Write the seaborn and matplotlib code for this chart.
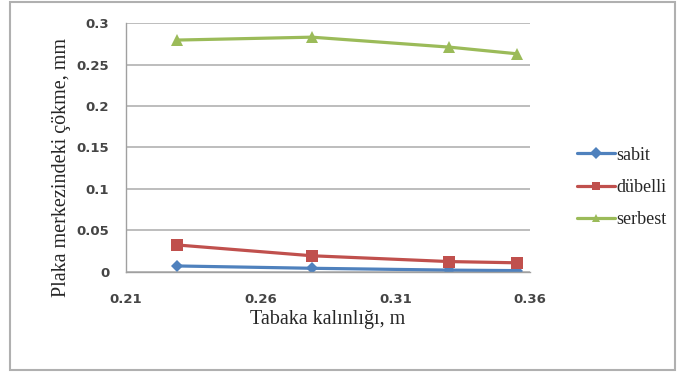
"""
Plaka merkezindeki çökme vs tabaka kalınlığı — çizgi grafik
"""
import numpy as np
import pandas as pd
import matplotlib
matplotlib.use("Agg")
import matplotlib.pyplot as plt
from matplotlib.patches import Rectangle
import seaborn as sns

# Veri
kalinlik = [0.229, 0.279, 0.330, 0.355]
sabit = [0.0072, 0.0044, 0.0022, 0.0016]
dubelli = [0.0325, 0.0195, 0.0125, 0.011]
serbest = [0.2795, 0.2830, 0.2710, 0.2630]
seriler = ["sabit", "dübelli", "serbest"]
renkler = ["#4F81BD", "#C0504D", "#9BBB59"]
isaretler = ["D", "s", "^"]
x_ticks = [0.21, 0.26, 0.31, 0.36]
y_ticks = [0, 0.05, 0.1, 0.15, 0.2, 0.25, 0.3]

df = pd.DataFrame({
    "x": kalinlik * 3,
    "y": sabit + dubelli + serbest,
    "seri": np.repeat(seriler, len(kalinlik)),
})

sns.set_style("white")
plt.rcParams["font.family"] = ["DejaVu Sans"]
SERIF = ["Liberation Serif", "DejaVu Serif"]

fig = plt.figure(figsize=(6.77, 3.72), dpi=100)
ax = fig.add_axes([0.186, 0.269, 0.597, 0.669])

sns.lineplot(data=df, x="x", y="y", hue="seri", style="seri",
             palette=renkler, markers=isaretler, dashes=False,
             hue_order=seriler, style_order=seriler,
             linewidth=2.3, markeredgewidth=0, ax=ax)
for line, ms in zip(ax.lines, [6, 9, 9]):
    line.set_markersize(ms)

ax.set_xlim(0.21, 0.36)
ax.set_ylim(0, 0.3)
ax.set_xticks(x_ticks)
ax.set_xticklabels(["0.21", "0.26", "0.31", "0.36"])
ax.set_yticks(y_ticks)
ax.set_yticklabels(["0", "0.05", "0.1", "0.15", "0.2", "0.25", "0.3"])
ax.tick_params(axis="x", length=0, pad=15, labelsize=9.5, colors="#454545")
ax.tick_params(axis="y", length=0, pad=12, labelsize=9.5, colors="#454545")
for lab in ax.get_xticklabels() + ax.get_yticklabels():
    lab.set_fontweight("bold")
ax.yaxis.grid(True, color="#b8b8b8", linewidth=1.3)
ax.xaxis.grid(False)
for s in ["top", "right"]:
    ax.spines[s].set_visible(False)
for s in ["left", "bottom"]:
    ax.spines[s].set_color("#a0a0a0")
    ax.spines[s].set_linewidth(1.0)

ax.set_xlabel("Tabaka kalınlığı, m", family=SERIF, fontsize=14.5, labelpad=3)
ax.set_ylabel("Plaka merkezindeki çökme, mm", family=SERIF, fontsize=14.5)
ax.yaxis.set_label_coords(-0.136, 0.42)

leg = ax.legend(loc="upper left", bbox_to_anchor=(0.852, 0.606),
                bbox_transform=fig.transFigure, frameon=False,
                prop={"family": SERIF, "size": 13}, borderpad=0, borderaxespad=0,
                handlelength=2.1, handletextpad=0.1, labelspacing=0.85)

# Dış çerçeve
fig.patches.append(Rectangle((0.015, 0.006), 0.982, 0.988, transform=fig.transFigure,
                             fill=False, edgecolor="#b0b0b0", linewidth=1.5))

plt.savefig("out.png", dpi=100)
plt.close()
